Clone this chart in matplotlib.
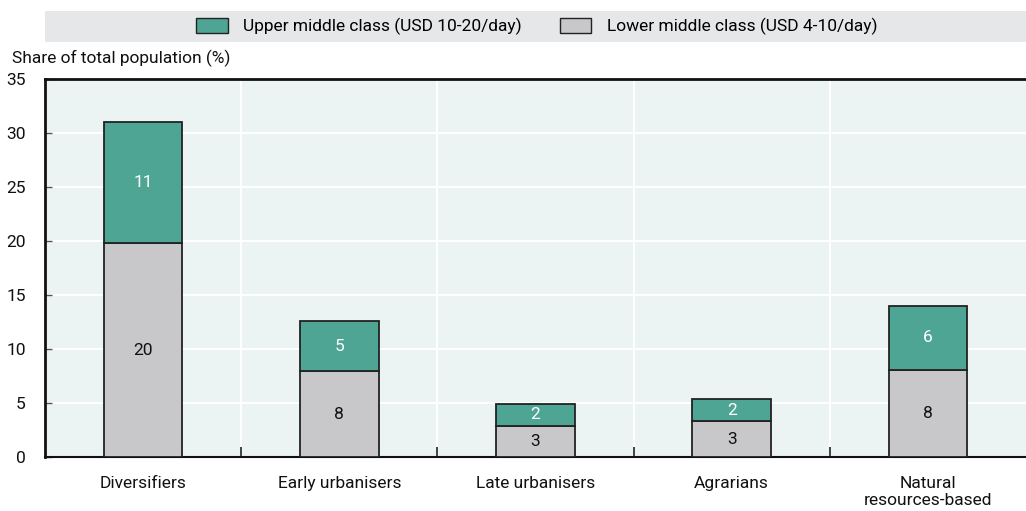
import matplotlib.pyplot as plt
from matplotlib.patches import Rectangle, Patch
import numpy as np

plt.rcParams['font.family'] = ['Roboto', 'DejaVu Sans']

# Share of total population by middle-class segment
categories = ['Diversifiers', 'Early urbanisers', 'Late urbanisers', 'Agrarians',
              'Natural\nresources-based']
lower_mc = [19.8, 7.96, 2.9, 3.3, 8.05]
upper_mc = [11.25, 4.63, 2.05, 2.1, 5.95]
y_ticks = [0, 5, 10, 15, 20, 25, 30, 35]

teal = '#4ea593'
grey = '#c8c8ca'
bg = '#ecf4f3'
fs = 12.5

fig = plt.figure(figsize=(10.26, 5.11), dpi=100)
ax = fig.add_axes([0.0439, 0.1057, 0.9561, 0.7397])
ax.set_facecolor(bg)

x = np.arange(len(categories))
ax.bar(x, lower_mc, width=0.4, color=grey, edgecolor='#222222', linewidth=1.3, zorder=3)
ax.bar(x, upper_mc, width=0.4, bottom=lower_mc, color=teal, edgecolor='#222222',
       linewidth=1.3, zorder=3)

for xi, lo, up in zip(x, lower_mc, upper_mc):
    ax.text(xi, lo / 2, f'{lo:.0f}', ha='center', va='center', fontsize=fs,
            color='#111111', zorder=4)
    ax.text(xi, lo + up / 2, f'{up:.0f}', ha='center', va='center', fontsize=fs,
            color='white', zorder=4)

ax.set_xlim(-0.5, len(categories) - 0.5)
ax.set_ylim(0, 35)
ax.set_yticks(y_ticks)
ax.set_xticks(x)
ax.set_xticklabels(categories, fontsize=fs, linespacing=1.15)
ax.set_xticks(np.arange(0.5, len(categories) - 0.5), minor=True)

ax.tick_params(axis='x', which='major', length=0, pad=14, colors='#111111')
ax.tick_params(axis='x', which='minor', direction='in', length=7, width=1.2, color='#222222')
ax.tick_params(axis='y', direction='in', length=5, width=1, color='#555555',
               labelsize=fs, pad=14, labelcolor='#111111')

ax.grid(axis='y', color='white', linewidth=1.5, zorder=1)
ax.grid(axis='x', which='minor', color='white', linewidth=1.5, zorder=1)
ax.set_axisbelow(True)

ax.spines['right'].set_visible(False)
ax.spines['top'].set_linewidth(2)
ax.spines['left'].set_linewidth(2)
ax.spines['bottom'].set_linewidth(1.5)
for s in ['top', 'left', 'bottom']:
    ax.spines[s].set_color('#111111')

fig.text(12 / 1026, 1 - 58 / 511, 'Share of total population (%)', fontsize=fs,
         ha='left', va='center', color='#111111')

# legend band
fig.patches.append(Rectangle((45 / 1026, 1 - 42 / 511), 981 / 1026, 31 / 511,
                             transform=fig.transFigure, facecolor='#e6e7e9',
                             edgecolor='none', zorder=0))
handles = [Patch(facecolor=teal, edgecolor='#222222', label='Upper middle class (USD 10-20/day)'),
           Patch(facecolor=grey, edgecolor='#222222', label='Lower middle class (USD 4-10/day)')]
fig.legend(handles=handles, loc='center', bbox_to_anchor=(537 / 1026, 1 - 26.5 / 511),
           ncol=2, frameon=False, fontsize=fs, handlelength=1.8, handleheight=0.9,
           columnspacing=2.2, handletextpad=0.9)

fig.savefig('out.png', dpi=100)
